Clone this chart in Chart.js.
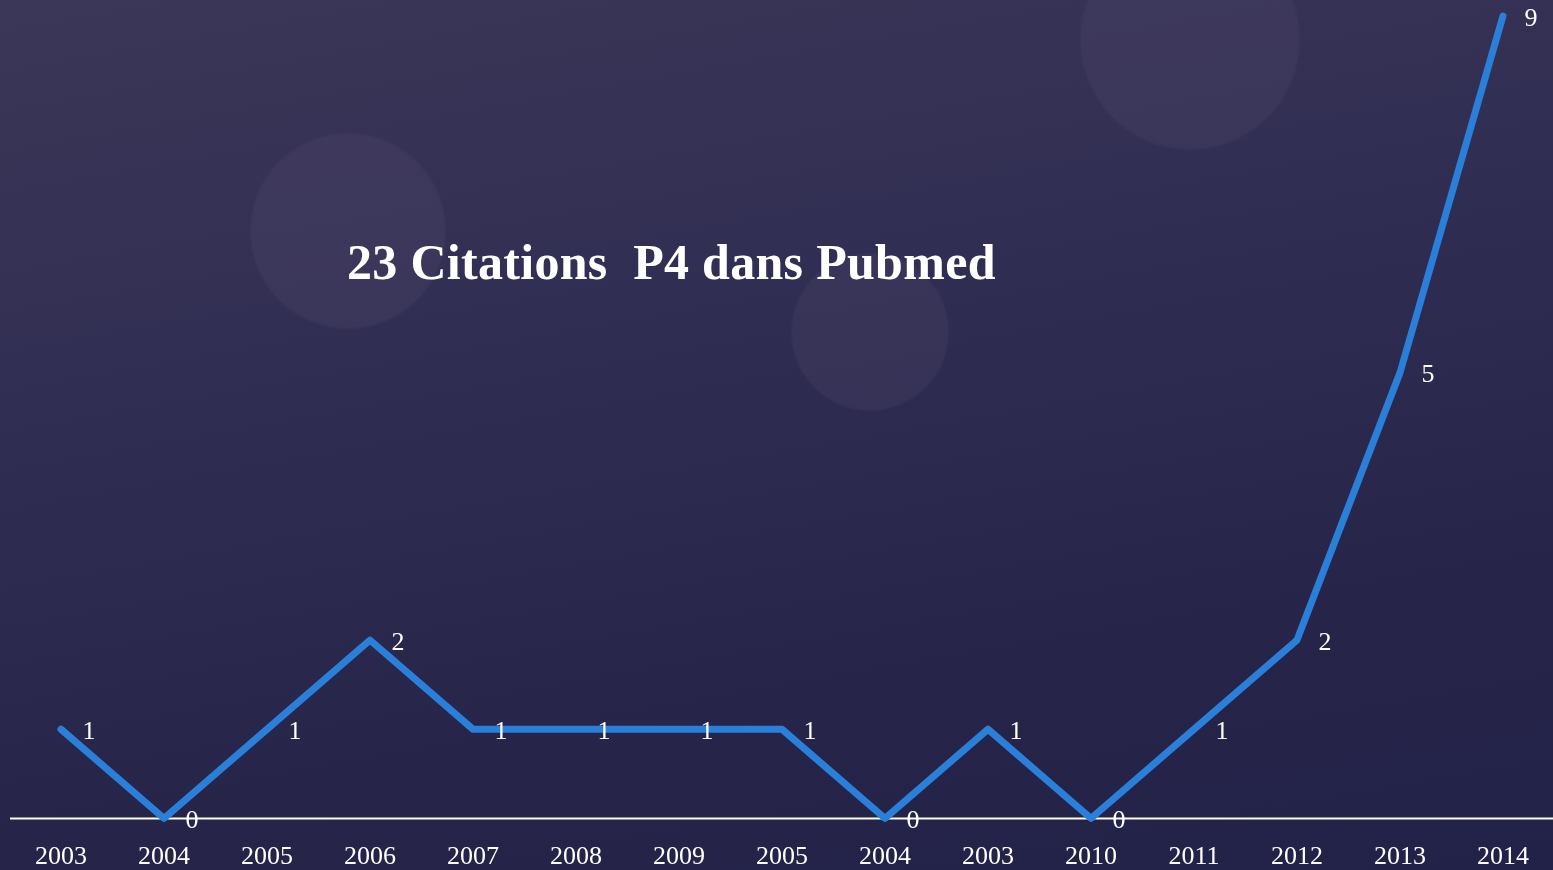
<!DOCTYPE html>
<html>
<head>
<meta charset="utf-8">
<script src="https://cdn.jsdelivr.net/npm/chart.js@4"></script>
<style>
    html, body {
        margin: 0;
        padding: 0;
        width: 1553px;
        height: 870px;
        overflow: hidden;
    }
    body {
        background:
            radial-gradient(circle at 348px 231px, rgba(78, 70, 105, 0.32) 0, rgba(78, 70, 105, 0.32) 96px, rgba(78, 70, 105, 0) 99px),
            radial-gradient(circle at 870px 332px, rgba(78, 70, 105, 0.30) 0, rgba(78, 70, 105, 0.30) 77px, rgba(78, 70, 105, 0) 80px),
            radial-gradient(circle at 1190px 40px, rgba(78, 70, 105, 0.30) 0, rgba(78, 70, 105, 0.30) 108px, rgba(78, 70, 105, 0) 111px),
            linear-gradient(170deg, #3b3758 0%, #2f2d52 40%, #262449 75%, #222147 100%);
    }
    #wrap {
        position: absolute;
        left: 0;
        top: 0;
        width: 1553px;
        height: 870px;
    }
    #title {
        position: absolute;
        left: 347px;
        top: 234px;
        color: #ffffff;
        font-family: "Liberation Serif", "DejaVu Serif", serif;
        font-weight: bold;
        font-size: 50px;
        line-height: 56px;
        white-space: pre;
        letter-spacing: 0.3px;
    }
</style>
</head>
<body>
<div id="wrap">
    <canvas id="citationChart" width="1553" height="870"></canvas>
</div>
<div id="title">23 Citations  P4 dans Pubmed</div>

<script>
const years = ['2003', '2004', '2005', '2006', '2007', '2008', '2009', '2005', '2004', '2003', '2010', '2011', '2012', '2013', '2014'];
const citations = [1, 0, 1, 2, 1, 1, 1, 1, 0, 1, 0, 1, 2, 5, 9];

const serif = '"Liberation Serif", "DejaVu Serif", serif';

// white base line across the whole width at value 0
const baseLine = {
    id: 'baseLine',
    beforeDatasetsDraw: chart => {
        const ctx = chart.ctx;
        const y = chart.scales.y.getPixelForValue(0);
        ctx.save();
        ctx.strokeStyle = '#ffffff';
        ctx.lineWidth = 2;
        ctx.beginPath();
        ctx.moveTo(10, y);
        ctx.lineTo(chart.width, y);
        ctx.stroke();
        ctx.restore();
    }
};

// value labels to the right of each point
const pointLabels = {
    id: 'pointLabels',
    afterDatasetsDraw: chart => {
        const ctx = chart.ctx;
        const meta = chart.getDatasetMeta(0);
        ctx.save();
        ctx.fillStyle = '#ffffff';
        ctx.font = '26px ' + serif;
        ctx.textAlign = 'center';
        ctx.textBaseline = 'middle';
        meta.data.forEach((pt, i) => {
            ctx.fillText(String(citations[i]), pt.x + 28, pt.y + 3);
        });
        ctx.restore();
    }
};

const ctx = document.querySelector('#citationChart').getContext('2d');

const citationChart = new Chart(ctx, {
    type: 'line',
    data: {
        labels: years,
        datasets: [{
            label: 'Citations',
            data: citations,
            borderColor: '#2a7fd9',
            borderWidth: 7,
            borderCapStyle: 'round',
            borderJoinStyle: 'round',
            pointRadius: 0,
            tension: 0,
            fill: false,
            clip: false
        }]
    },
    options: {
        responsive: false,
        animation: false,
        layout: {
            padding: { left: 61, right: 38, top: 16, bottom: -25 }
        },
        plugins: {
            legend: { display: false },
            tooltip: { enabled: false }
        },
        scales: {
            x: {
                offset: false,
                grid: { display: false, drawTicks: false },
                border: { display: false },
                ticks: {
                    color: '#ffffff',
                    padding: 24,
                    maxRotation: 0,
                    autoSkip: false,
                    font: { family: serif, size: 26, lineHeight: 1.1 }
                }
            },
            y: {
                display: false,
                min: 0,
                max: 9
            }
        }
    },
    plugins: [baseLine, pointLabels]
});
</script>
</body>
</html>
